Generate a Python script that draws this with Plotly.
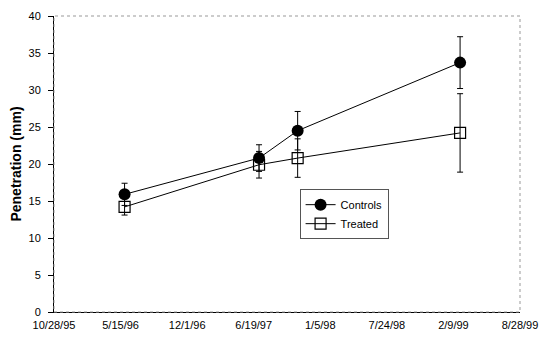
import plotly.graph_objects as go

dates = ["1996-05-27", "1997-07-05", "1997-10-29", "1999-03-01"]
controls = [15.9, 20.8, 24.5, 33.7]
controls_err = [1.5, 1.8, 2.6, 3.5]
treated = [14.2, 19.9, 20.8, 24.2]
treated_err = [1.1, 1.8, 2.6, 5.3]

tick_dates = ["1995-10-28", "1996-05-15", "1996-12-01", "1997-06-19",
              "1998-01-05", "1998-07-24", "1999-02-09", "1999-08-28"]
tick_labels = ["10/28/95", "5/15/96", "12/1/96", "6/19/97",
               "1/5/98", "7/24/98", "2/9/99", "8/28/99"]
y_ticks = [0, 5, 10, 15, 20, 25, 30, 35, 40]

fig = go.Figure()
fig.add_trace(go.Scatter(
    x=dates, y=treated, name="Treated", mode="lines+markers",
    line=dict(color="black", width=1),
    marker=dict(symbol="square-open", size=11, color="black", line=dict(width=1.2)),
    error_y=dict(type="data", array=treated_err, color="black", thickness=1, width=3),
))
fig.add_trace(go.Scatter(
    x=dates, y=controls, name="Controls", mode="lines+markers",
    line=dict(color="black", width=1),
    marker=dict(symbol="circle", size=12, color="black"),
    error_y=dict(type="data", array=controls_err, color="black", thickness=1, width=3),
))

fig.update_layout(
    width=548, height=341,
    margin=dict(l=54, r=22, t=10, b=29),
    paper_bgcolor="white", plot_bgcolor="white",
    font=dict(family="Liberation Sans, Arial, sans-serif", size=11, color="black"),
    showlegend=True,
    legend=dict(
        x=0.527, y=0.415, xanchor="left", yanchor="top",
        bgcolor="white", bordercolor="#555", borderwidth=1,
        traceorder="reversed", font=dict(size=11),
        itemwidth=30, tracegroupgap=0,
    ),
    xaxis=dict(
        type="date",
        range=["1995-10-28", "1999-08-28"],
        tickmode="array", tickvals=tick_dates, ticktext=tick_labels,
        showgrid=False, zeroline=False,
        showline=True, linecolor="black", linewidth=1, mirror=False,
        ticks="", tickfont=dict(size=11), ticklabelstandoff=3,
    ),
    yaxis=dict(
        range=[0, 40], tickmode="array", tickvals=y_ticks,
        showgrid=False, zeroline=False,
        showline=True, linecolor="black", linewidth=1,
        ticks="outside", ticklen=5, tickcolor="black",
        ticklabelstandoff=5,
        title=dict(text="<b>Penetration (mm)</b>", font=dict(size=14), standoff=3),
        tickfont=dict(size=11),
    ),
    shapes=[dict(type="rect", xref="paper", yref="paper", x0=0, y0=0, x1=1, y1=1,
                 line=dict(color="#999", width=1, dash="dot"))],
)

fig.write_html("out.html")
